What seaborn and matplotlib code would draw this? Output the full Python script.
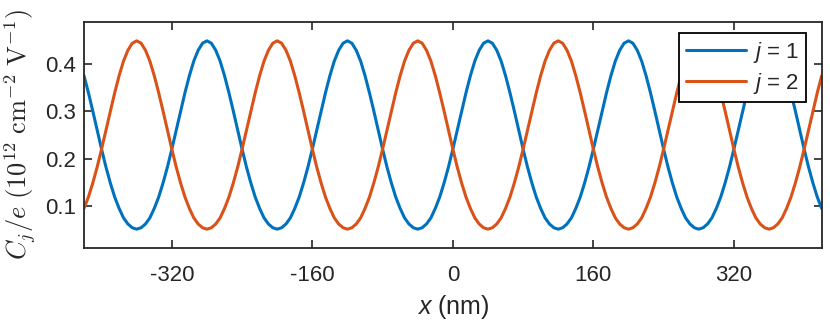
import numpy as np
import pandas as pd
import seaborn as sns
import matplotlib.pyplot as plt
from matplotlib.font_manager import FontProperties

# x grid (nm) and capacitance values, 5 nm steps
x_nm = np.arange(-420, 425, 5)

c_j1 = [
    0.376, 0.340, 0.301, 0.260, 0.220, 0.182, 0.148, 0.118, 0.094, 0.074, 0.061, 0.053, 0.050, 0.053, 0.061, 0.074,
    0.094, 0.118, 0.148, 0.182, 0.220, 0.260, 0.301, 0.340, 0.376, 0.407, 0.430, 0.445, 0.450, 0.445, 0.430, 0.407,
    0.376, 0.340, 0.301, 0.260, 0.220, 0.182, 0.148, 0.118, 0.094, 0.074, 0.061, 0.053, 0.050, 0.053, 0.061, 0.074,
    0.094, 0.118, 0.148, 0.182, 0.220, 0.260, 0.301, 0.340, 0.376, 0.407, 0.430, 0.445, 0.450, 0.445, 0.430, 0.407,
    0.376, 0.340, 0.301, 0.260, 0.220, 0.182, 0.148, 0.118, 0.094, 0.074, 0.061, 0.053, 0.050, 0.053, 0.061, 0.074,
    0.094, 0.118, 0.148, 0.182, 0.220, 0.260, 0.301, 0.340, 0.376, 0.407, 0.430, 0.445, 0.450, 0.445, 0.430, 0.407,
    0.376, 0.340, 0.301, 0.260, 0.220, 0.182, 0.148, 0.118, 0.094, 0.074, 0.061, 0.053, 0.050, 0.053, 0.061, 0.074,
    0.094, 0.118, 0.148, 0.182, 0.220, 0.260, 0.301, 0.340, 0.376, 0.407, 0.430, 0.445, 0.450, 0.445, 0.430, 0.407,
    0.376, 0.340, 0.301, 0.260, 0.220, 0.182, 0.148, 0.118, 0.094, 0.074, 0.061, 0.053, 0.050, 0.053, 0.061, 0.074,
    0.094, 0.118, 0.148, 0.182, 0.220, 0.260, 0.301, 0.340, 0.376, 0.407, 0.430, 0.445, 0.450, 0.445, 0.430, 0.407,
    0.376, 0.340, 0.301, 0.260, 0.220, 0.182, 0.148, 0.118, 0.094,
]

c_j2 = [
    0.094, 0.118, 0.148, 0.182, 0.220, 0.260, 0.301, 0.340, 0.376, 0.407, 0.430, 0.445, 0.450, 0.445, 0.430, 0.407,
    0.376, 0.340, 0.301, 0.260, 0.220, 0.182, 0.148, 0.118, 0.094, 0.074, 0.061, 0.053, 0.050, 0.053, 0.061, 0.074,
    0.094, 0.118, 0.148, 0.182, 0.220, 0.260, 0.301, 0.340, 0.376, 0.407, 0.430, 0.445, 0.450, 0.445, 0.430, 0.407,
    0.376, 0.340, 0.301, 0.260, 0.220, 0.182, 0.148, 0.118, 0.094, 0.074, 0.061, 0.053, 0.050, 0.053, 0.061, 0.074,
    0.094, 0.118, 0.148, 0.182, 0.220, 0.260, 0.301, 0.340, 0.376, 0.407, 0.430, 0.445, 0.450, 0.445, 0.430, 0.407,
    0.376, 0.340, 0.301, 0.260, 0.220, 0.182, 0.148, 0.118, 0.094, 0.074, 0.061, 0.053, 0.050, 0.053, 0.061, 0.074,
    0.094, 0.118, 0.148, 0.182, 0.220, 0.260, 0.301, 0.340, 0.376, 0.407, 0.430, 0.445, 0.450, 0.445, 0.430, 0.407,
    0.376, 0.340, 0.301, 0.260, 0.220, 0.182, 0.148, 0.118, 0.094, 0.074, 0.061, 0.053, 0.050, 0.053, 0.061, 0.074,
    0.094, 0.118, 0.148, 0.182, 0.220, 0.260, 0.301, 0.340, 0.376, 0.407, 0.430, 0.445, 0.450, 0.445, 0.430, 0.407,
    0.376, 0.340, 0.301, 0.260, 0.220, 0.182, 0.148, 0.118, 0.094, 0.074, 0.061, 0.053, 0.050, 0.053, 0.061, 0.074,
    0.094, 0.118, 0.148, 0.182, 0.220, 0.260, 0.301, 0.340, 0.376,
]

series_labels = ["$j$ = 1", "$j$ = 2"]
series_colors = ["#0072BD", "#D95319"]
x_ticks = [-320, -160, 0, 160, 320]
y_ticks = [0.1, 0.2, 0.3, 0.4]

sns.set_style("ticks")
plt.rcParams["font.family"] = ["Liberation Sans", "DejaVu Sans"]
plt.rcParams["mathtext.fontset"] = "custom"
plt.rcParams["mathtext.rm"] = "Liberation Sans"
plt.rcParams["mathtext.it"] = "Liberation Sans:italic"

ink = "#262626"

df = pd.DataFrame({
    "x": np.concatenate([x_nm, x_nm]),
    "C": np.concatenate([c_j1, c_j2]),
    "series": [series_labels[0]] * len(x_nm) + [series_labels[1]] * len(x_nm),
})

fig = plt.figure(figsize=(8.3, 3.3), dpi=100)
ax = fig.add_axes([0.1012, 0.2485, 0.8888, 0.6848])

sns.lineplot(data=df, x="x", y="C", hue="series", palette=series_colors,
             linewidth=2.2, ax=ax, legend=True)

ax.set_xlim(-420, 420)
ax.set_ylim(0.01, 0.49)
ax.set_xticks(x_ticks)
ax.set_xticklabels([str(t) for t in x_ticks])
ax.set_yticks(y_ticks)
ax.set_yticklabels([f"{t:.1f}" for t in y_ticks])

ax.tick_params(direction="in", length=5.8, width=1.2, colors=ink,
               labelsize=16, top=True, right=True)
ax.tick_params(axis="x", pad=12)
ax.tick_params(axis="y", pad=6)
for sp in ax.spines.values():
    sp.set_linewidth(1.3)
    sp.set_color(ink)

ax.set_xlabel("$x$ (nm)", fontsize=18, color=ink, labelpad=5)
ylab_font = FontProperties(size=19, math_fontfamily="cm")
ax.set_ylabel(r"$C_j/e\ (10^{12}\ \mathrm{cm}^{-2}\ \mathrm{V}^{-1})$",
              fontproperties=ylab_font, color=ink, labelpad=5)

leg = ax.legend(loc="upper right", bbox_to_anchor=(0.979, 0.950),
                fontsize=16, frameon=True, fancybox=False,
                framealpha=1, edgecolor="black", handlelength=2.7,
                borderaxespad=0, borderpad=0.3, labelspacing=0.25,
                handletextpad=0.35)
leg.get_frame().set_linewidth(1.3)
for line in leg.get_lines():
    line.set_linewidth(2.2)

fig.savefig("out.png", dpi=100)
